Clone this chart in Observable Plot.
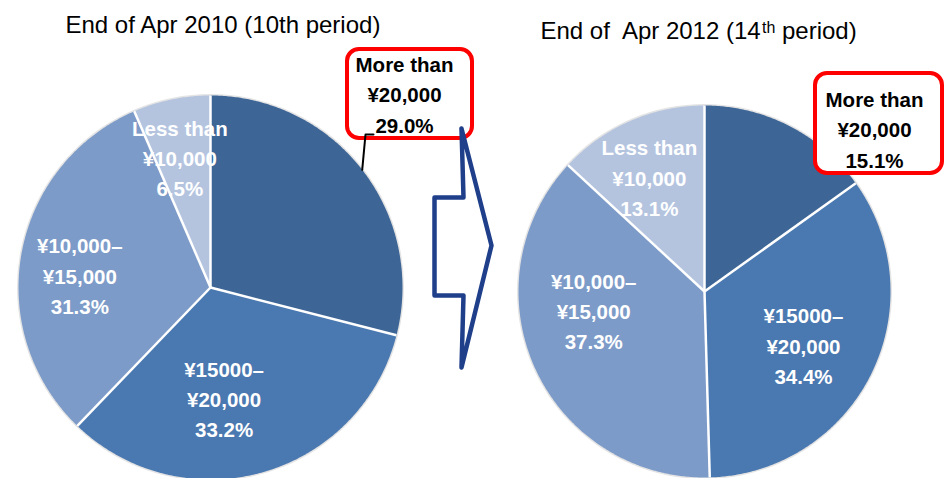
<!DOCTYPE html>
<html><head><meta charset="utf-8">
<script src="https://cdn.jsdelivr.net/npm/d3@7"></script>
<script src="https://cdn.jsdelivr.net/npm/@observablehq/plot@0.6"></script>
<style>
html,body{margin:0;padding:0;background:#fff;overflow:hidden;}
#chart svg{display:block;max-width:none;}
</style></head><body><div id="chart"></div>
<script>
// ---- data ----
const categories = ["More than ¥20,000", "¥15000–¥20,000", "¥10,000–¥15,000", "Less than ¥10,000"];
const categoryLines = [["More than", "¥20,000"], ["¥15000–", "¥20,000"], ["¥10,000–", "¥15,000"], ["Less than", "¥10,000"]];
const share2010 = [29.0, 33.2, 31.3, 6.5];
const share2012 = [15.1, 34.4, 37.3, 13.1];
const title2010 = "End of Apr 2010 (10th period)";
const title2012Parts = ["End of\u00a0 Apr 2012 (14", "th", "\u00a0period)"];
const sliceColors = ["#3D6596", "#4A78B0", "#7D9BC8", "#B4C4DF"];

// ---- layout ----
const W = 946, H = 478;
const FONT = "Liberation Sans, Arial, sans-serif";
const pies = [
  {key: "2010", values: share2010, cx: 210, cy: 287, r: 192,
   nudges: [null, [-21, -12], [-6, 9], [-5, -7]],
   callout: {x1: 347, x2: 472, y1: 49, y2: 138, tx: 404, ty: 92, leader: [[365, 134], [373, 134]]}},
  {key: "2012", values: share2012, cx: 704, cy: 291, r: 186,
   nudges: [null, [-11, -2], [1, -33], [-6, -3]],
   callout: {x1: 815, x2: 942, y1: 73, y2: 173, tx: 874, ty: 127, leader: null}}
];
const arrowShape = [[461,128],[491,245],[461,367],[463,295],[434,295],[434,197],[463,197],[461,128]];

// ---- geometry via d3.pie ----
const pieGen = d3.pie().sort(null).value(d => d);
const slicePts = [], seps = [], labels = [], calloutBoxes = [], calloutTexts = [], leaderPts = [];
pies.forEach(p => {
  const arcs = pieGen(p.values);
  arcs.forEach((a, i) => {
    const key = p.key + "-" + i, cat = categories[i];
    const n = Math.max(2, Math.ceil((a.endAngle - a.startAngle) / (Math.PI / 360)));
    slicePts.push({key, cat, x: p.cx, y: p.cy});
    for (let k = 0; k <= n; k++) {
      const t = a.startAngle + (a.endAngle - a.startAngle) * k / n;
      slicePts.push({key, cat, x: p.cx + p.r * Math.sin(t), y: p.cy - p.r * Math.cos(t)});
    }
    slicePts.push({key, cat, x: p.cx, y: p.cy});
    seps.push({x1: p.cx, y1: p.cy, x2: p.cx + p.r * Math.sin(a.startAngle), y2: p.cy - p.r * Math.cos(a.startAngle)});
    const text = categoryLines[i].join("\n") + "\n" + p.values[i].toFixed(1) + "%";
    const m = (a.startAngle + a.endAngle) / 2;
    if (i === 0) {
      const c = p.callout;
      calloutBoxes.push(c);
      calloutTexts.push({text, x: c.tx, y: c.ty});
      if (c.leader) {
        leaderPts.push({x: p.cx + p.r * Math.sin(m), y: p.cy - p.r * Math.cos(m)});
        c.leader.forEach(([x, y]) => leaderPts.push({x, y}));
      }
    } else {
      const nd = p.nudges[i];
      labels.push({text, x: p.cx + 0.66 * p.r * Math.sin(m) + nd[0], y: p.cy - 0.66 * p.r * Math.cos(m) + nd[1]});
    }
  });
});

// measure title parts for the superscript
const ctx = document.createElement("canvas").getContext("2d");
ctx.font = "24px 'Liberation Sans'";
const w0 = ctx.measureText(title2012Parts[0]).width;
ctx.font = "16px 'Liberation Sans'";
const w1 = ctx.measureText(title2012Parts[1]).width;
const t2x = 540;

const plot = Plot.plot({
  width: W, height: H,
  margin: 0,
  x: {domain: [0, W], range: [0, W], axis: null},
  y: {domain: [0, H], range: [0, H], axis: null},
  color: {domain: categories, range: sliceColors},
  style: {fontFamily: FONT, background: "white"},
  marks: [
    ...pies.map(p => Plot.dot([p], {x: "cx", y: "cy", r: p.r + 1.5, fill: "#e4e4e4", stroke: "none"})),
    Plot.line(slicePts, {x: "x", y: "y", z: "key", fill: "cat", stroke: "none"}),
    Plot.link(seps, {x1: "x1", y1: "y1", x2: "x2", y2: "y2", stroke: "white", strokeWidth: 2.5}),
    Plot.text(labels, {x: "x", y: "y", text: "text", fill: "white", fontSize: 20.5, fontWeight: "bold", lineHeight: 1.48}),
    Plot.rect(calloutBoxes, {x1: "x1", x2: "x2", y1: "y1", y2: "y2", rx: 12, fill: "white", stroke: "#FF0000", strokeWidth: 4}),
    Plot.line(leaderPts, {x: "x", y: "y", stroke: "black", strokeWidth: 2}),
    Plot.text(calloutTexts, {x: "x", y: "y", text: "text", fill: "black", fontSize: 20.5, fontWeight: "bold", lineHeight: 1.48}),
    Plot.line(arrowShape, {x: d => d[0], y: d => d[1], stroke: "#1F3F8A", strokeWidth: 4.5, fill: "none"}),
    Plot.text([title2010], {x: 65, y: 25.3, text: d => d, textAnchor: "start", fontSize: 24, fill: "black"}),
    Plot.text([title2012Parts[0]], {x: t2x, y: 31.3, text: d => d, textAnchor: "start", fontSize: 24, fill: "black"}),
    Plot.text([title2012Parts[1]], {x: t2x + w0, y: 27.5, text: d => d, textAnchor: "start", fontSize: 16, fill: "black"}),
    Plot.text([title2012Parts[2]], {x: t2x + w0 + w1, y: 31.3, text: d => d, textAnchor: "start", fontSize: 24, fill: "black"})
  ]
});
document.getElementById("chart").appendChild(plot);
</script></body></html>
